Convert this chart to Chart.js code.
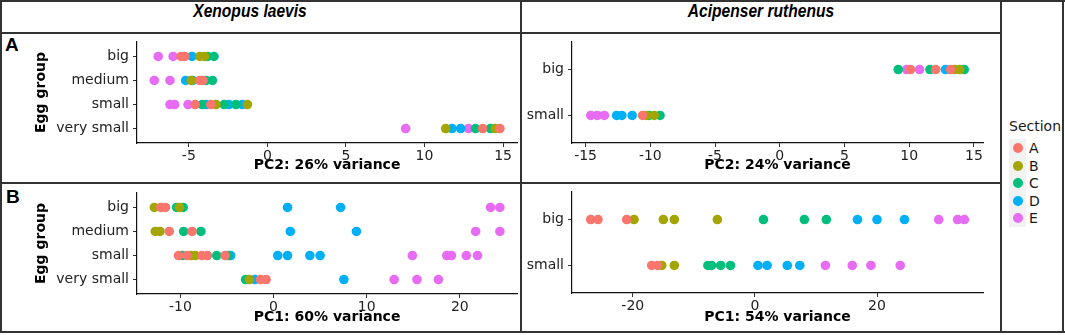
<!DOCTYPE html>
<html>
<head>
<meta charset="utf-8">
<script src="https://cdn.jsdelivr.net/npm/chart.js@4.4.0/dist/chart.umd.min.js"></script>
<style>
  body { margin: 0; background: #fff; }
  #fig { position: relative; width: 1065px; height: 335px; overflow: hidden; font-family: "DejaVu Sans", sans-serif; }
  canvas { position: absolute; }
  .rule { position: absolute; background: #333; }
  .head { position: absolute; top: 0; height: 33px; line-height: 33px; transform: translateX(-50%) scaleX(0.82);
          white-space: nowrap; font: italic bold 19px "Liberation Sans Narrow", "Liberation Sans", sans-serif; color: #000; }
  .tag { position: absolute; font: bold 19px "Liberation Sans", sans-serif; color: #000; }
  .legend-title { position: absolute; left: 1009px; top: 118px; font-size: 14px; color: #1a1a1a; }
  .key-bg { position: absolute; left: 1009px; top: 139px; width: 17px; height: 88px; background: #f2f2f2; }
  .key-dot { position: absolute; width: 10px; height: 10px; border-radius: 50%; left: 1013px; }
  .key-label { position: absolute; left: 1029px; font-size: 14px; line-height: 16px; color: #1a1a1a; }
</style>
</head>
<body>
<div id="fig">
  <canvas id="xl-pc2"></canvas>
  <canvas id="ar-pc2"></canvas>
  <canvas id="xl-pc1"></canvas>
  <canvas id="ar-pc1"></canvas>

  <div class="rule" style="left:0;top:0;width:1065px;height:2px"></div>
  <div class="rule" style="left:0;top:331px;width:1065px;height:2px"></div>
  <div class="rule" style="left:0;top:0;width:2px;height:333px"></div>
  <div class="rule" style="left:1062px;top:0;width:2px;height:333px"></div>
  <div class="rule" style="left:0;top:32px;width:1001px;height:2px"></div>
  <div class="rule" style="left:0;top:182px;width:1001px;height:2px"></div>
  <div class="rule" style="left:520px;top:0;width:2px;height:333px"></div>
  <div class="rule" style="left:1000px;top:0;width:2px;height:333px"></div>

  <div class="head" style="left:250px">Xenopus laevis</div>
  <div class="head" style="left:761px">Acipenser ruthenus</div>
  <div class="tag" style="left:5px;top:34px">A</div>
  <div class="tag" style="left:6px;top:186px">B</div>

  <div id="legend"></div>
</div>

<script>
Chart.defaults.font.family = "DejaVu Sans";

// sections and their ggplot hue colours
const sections = ['A', 'B', 'C', 'D', 'E'];
const sectionColors = ['#F8766D', '#A3A500', '#00BF7D', '#00B0F6', '#E76BF3'];

// egg groups, top to bottom
const xlEggGroups = ['big', 'medium', 'small', 'very small'];
const arEggGroups = ['big', 'small'];

// Xenopus laevis, PC2 scores as [section, value]
const xlPC2Big = [['E', -6.95], ['E', -6.0], ['A', -5.5], ['A', -5.25], ['D', -4.8], ['B', -4.3], ['B', -4.0], ['C', -3.8], ['C', -3.4]];
const xlPC2Medium = [['E', -7.2], ['E', -6.2], ['D', -5.2], ['B', -4.85], ['D', -4.75], ['A', -4.3], ['A', -4.1], ['C', -3.9], ['C', -3.5]];
const xlPC2Small = [['E', -6.2], ['E', -5.9], ['E', -5.05], ['A', -4.6], ['C', -4.15], ['D', -3.9], ['A', -3.6], ['B', -3.27],
                    ['C', -2.75], ['D', -2.45], ['C', -2.0], ['D', -1.6], ['B', -1.27]];
const xlPC2VerySmall = [['E', 8.8], ['B', 11.35], ['D', 11.75], ['D', 12.3], ['E', 12.8], ['C', 13.25], ['A', 13.7], ['C', 14.2], ['B', 14.5], ['A', 14.8]];

// Xenopus laevis, PC1
const xlPC1Big = [['B', -12.8], ['A', -12.1], ['A', -11.6], ['C', -10.4], ['B', -10.1], ['C', -9.7], ['D', 1.5], ['D', 7.2], ['E', 23.3], ['E', 24.3]];
const xlPC1Medium = [['B', -12.7], ['B', -12.2], ['A', -11.2], ['C', -9.65], ['A', -8.75], ['C', -7.8], ['D', 1.8], ['D', 8.9], ['E', 21.7], ['E', 24.3]];
const xlPC1Small = [['A', -10.2], ['C', -9.8], ['A', -9.3], ['B', -8.9], ['B', -8.4], ['A', -7.7], ['A', -7.1], ['C', -6.1], ['A', -5.2],
                    ['C', -4.9], ['D', -4.6], ['D', 0.45], ['D', 1.5], ['D', 3.9], ['D', 5.0],
                    ['E', 14.9], ['E', 18.6], ['E', 19.1], ['E', 20.7], ['E', 21.9]];
const xlPC1VerySmall = [['C', -3.0], ['B', -2.6], ['D', -2.0], ['A', -1.4], ['A', -0.8], ['D', 7.55], ['E', 12.95], ['E', 15.4], ['E', 17.7]];

// Acipenser ruthenus, PC2
const arPC2Big = [['C', 9.15], ['E', 9.8], ['A', 10.1], ['E', 10.8], ['C', 11.6], ['A', 12.05], ['D', 12.8], ['A', 13.2], ['B', 13.5], ['B', 13.9], ['C', 14.25]];
const arPC2Small = [['E', -14.6], ['E', -14.1], ['E', -13.55], ['D', -12.6], ['D', -12.2], ['D', -11.4], ['A', -10.6], ['B', -10.3], ['C', -10.1], ['B', -9.7], ['C', -9.25]];

// Acipenser ruthenus, PC1
const arPC1Big = [['A', -26.9], ['A', -25.7], ['A', -21.0], ['B', -19.8], ['B', -15.0], ['B', -13.2], ['B', -6.15], ['C', 1.4], ['C', 8.1], ['C', 11.7],
                  ['D', 16.8], ['D', 20.0], ['D', 24.5], ['E', 30.1], ['E', 33.2], ['E', 34.3]];
const arPC1Small = [['A', -16.9], ['A', -15.95], ['B', -15.25], ['B', -13.2], ['C', -7.7], ['C', -7.1], ['C', -5.6], ['C', -4.0],
                    ['D', 0.5], ['D', 2.0], ['D', 5.3], ['D', 7.35], ['E', 11.55], ['E', 15.95], ['E', 19.0], ['E', 23.8]];

// x tick labels
const xlPC2Ticks = [-5, 0, 5, 10, 15];
const xlPC1Ticks = [-10, 0, 10, 20];
const arPC2Ticks = [-15, -10, -5, 0, 5, 10, 15];
const arPC1Ticks = [-20, 0, 20];

// canvas box (c*) and plot area (p*) for each panel, in page pixels
function makePanel(id, box, groups, rows, ticks, xMin, xMax, xTitle, showYTitle) {
    const canvas = document.getElementById(id);
    canvas.width = box.cr - box.cl;
    canvas.height = box.cb - box.ct;
    canvas.style.left = box.cl + 'px';
    canvas.style.top = box.ct + 'px';

    const datasets = sections.map((s, k) => ({
        label: s,
        data: groups.flatMap((g, i) => rows[i].filter(r => r[0] === s).map(r => ({ x: r[1], y: i }))),
        backgroundColor: sectionColors[k],
        borderColor: sectionColors[k],
        pointRadius: 4.8,
        pointHoverRadius: 4.8,
        pointBorderWidth: 0,
        clip: false
    }));

    const gridOpts = { display: true, drawOnChartArea: false, drawTicks: true, tickLength: 4, color: '#333', lineWidth: 1 };
    const borderOpts = { display: true, color: '#111', width: 1.2 };

    return new Chart(canvas, {
        type: 'scatter',
        data: { datasets },
        options: {
            responsive: false,
            animation: false,
            events: [],
            layout: { padding: { top: box.pt - box.ct, right: box.cr - box.pr, left: 0, bottom: 0 } },
            plugins: { legend: { display: false }, tooltip: { enabled: false } },
            scales: {
                x: {
                    type: 'linear',
                    min: xMin,
                    max: xMax,
                    afterBuildTicks: s => { s.ticks = ticks.map(v => ({ value: v })); },
                    ticks: { font: { size: 14 }, color: '#222', padding: 1, maxRotation: 0, autoSkip: false },
                    grid: gridOpts,
                    border: borderOpts,
                    title: { display: true, text: xTitle, font: { size: 14, weight: 'bold' }, color: '#000', padding: 0 },
                    afterFit: s => {
                        s.height = box.cb - box.pb;
                        s.paddingLeft = 0;
                        s.paddingRight = 0;
                    }
                },
                y: {
                    type: 'linear',
                    reverse: true,
                    min: -0.6,
                    max: groups.length - 0.4,
                    afterBuildTicks: s => { s.ticks = groups.map((g, i) => ({ value: i })); },
                    ticks: { callback: v => groups[v], font: { size: 14 }, color: '#222', padding: 4, autoSkip: false },
                    grid: gridOpts,
                    border: borderOpts,
                    title: { display: showYTitle, text: 'Egg group', font: { size: 14, weight: 'bold' }, color: '#000', padding: 0 },
                    afterFit: s => {
                        s.width = box.pl - box.cl;
                        s.paddingTop = 0;
                        s.paddingBottom = 0;
                    }
                }
            }
        }
    });
}

makePanel('xl-pc2', { cl: 33, ct: 36, cr: 522, cb: 174, pl: 137, pt: 42, pr: 520, pb: 143 },
    xlEggGroups, [xlPC2Big, xlPC2Medium, xlPC2Small, xlPC2VerySmall], xlPC2Ticks, -8.3, 15.9, 'PC2: 26% variance', true);
makePanel('ar-pc2', { cl: 523, ct: 36, cr: 990, cb: 174, pl: 572, pt: 42, pr: 983, pb: 143 },
    arEggGroups, [arPC2Big, arPC2Small], arPC2Ticks, -16.05, 15.7, 'PC2: 24% variance', false);
makePanel('xl-pc1', { cl: 33, ct: 187, cr: 522, cb: 326, pl: 137, pt: 193, pr: 520, pb: 294 },
    xlEggGroups, [xlPC1Big, xlPC1Medium, xlPC1Small, xlPC1VerySmall], xlPC1Ticks, -14.66, 26.16, 'PC1: 60% variance', true);
makePanel('ar-pc1', { cl: 523, ct: 187, cr: 990, cb: 326, pl: 572, pt: 192, pr: 983, pb: 293 },
    arEggGroups, [arPC1Big, arPC1Small], arPC1Ticks, -29.96, 37.36, 'PC1: 54% variance', false);

// shared legend for Section
const legend = document.getElementById('legend');
legend.innerHTML = '<div class="legend-title">Section</div><div class="key-bg"></div>';
const keyCentres = [148, 165.5, 183, 200.5, 218];
sections.forEach((s, k) => {
    const dot = document.createElement('div');
    dot.className = 'key-dot';
    dot.style.top = (keyCentres[k] - 5) + 'px';
    dot.style.background = sectionColors[k];
    legend.appendChild(dot);
    const label = document.createElement('div');
    label.className = 'key-label';
    label.style.top = (keyCentres[k] - 8) + 'px';
    label.textContent = s;
    legend.appendChild(label);
});
</script>
</body>
</html>
